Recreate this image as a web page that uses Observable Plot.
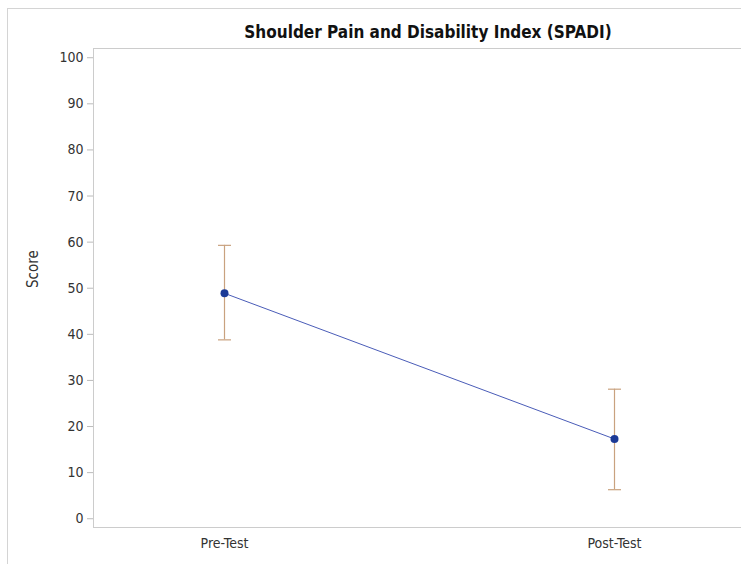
<!DOCTYPE html>
<html>
<head>
<meta charset="utf-8">
<script src="https://cdn.jsdelivr.net/npm/d3@7"></script>
<script src="https://cdn.jsdelivr.net/npm/@observablehq/plot@0.6"></script>
<style>
  html, body { margin: 0; padding: 0; background: #fff; overflow: hidden; }
  #wrap { position: relative; width: 741px; height: 564px; overflow: hidden; }
  #border { position: absolute; left: 7px; top: 8px; width: 760px; height: 600px;
            border-left: 1px solid #d4d4d4; border-top: 1px solid #d4d4d4; }
  #title { position: absolute; left: 93px; width: 670px; top: 22px; text-align: center;
           font-family: "Liberation Sans Narrow", "DejaVu Sans Condensed", "Liberation Sans", Arial, sans-serif;
           font-weight: bold; font-size: 17px; color: #111; }
  #chart { position: absolute; left: 0; top: 0; width: 748px; }
  #chart svg { max-width: none !important; }
</style>
</head>
<body>
<div id="wrap">
  <div id="border"></div>
  <div id="chart"></div>
  <div id="title">Shoulder Pain and Disability Index (SPADI)</div>
</div>
<script>
const tests = ["Pre-Test", "Post-Test"];
const means = [48.9, 17.3];
const upper = [59.3, 28.1];
const lower = [38.8, 6.3];
const yTicks = [0, 10, 20, 30, 40, 50, 60, 70, 80, 90, 100];

const data = tests.map((t, i) => ({test: t, mean: means[i], hi: upper[i], lo: lower[i]}));

const capSymbol = {
  draw(ctx) { ctx.moveTo(-6.5, 0); ctx.lineTo(6.5, 0); }
};

const font = '"Liberation Sans Narrow", "DejaVu Sans Condensed", "Liberation Sans", Arial, sans-serif';

const chart = Plot.plot({
  width: 748,
  height: 564,
  marginTop: 48,
  marginBottom: 37,
  marginLeft: 93,
  marginRight: 4,
  style: { fontFamily: font, fontSize: "14px", color: "#333", background: "transparent", overflow: "visible", maxWidth: "none" },
  x: { type: "point", domain: tests, padding: 1/3, label: null },
  y: { domain: [-1.9, 102], label: null },
  marks: [
    Plot.frame({ stroke: "#cccccc" }),
    Plot.axisY({ ticks: yTicks, tickSize: 6, tickPadding: 4, stroke: "#bbbbbb", fontSize: 14, fill: "#333" }),
    Plot.axisX({ tickSize: 0, tickPadding: 11, fontSize: 14, fill: "#333" }),
    Plot.text(["Score"], { frameAnchor: "left", dx: -60, rotate: -90, fontSize: 15, fill: "#333" }),
    Plot.ruleX(data, { x: "test", y1: "lo", y2: "hi", stroke: "#c9a27f", strokeWidth: 1.2 }),
    Plot.dot(data, { x: "test", y: "hi", symbol: capSymbol, stroke: "#c9a27f", strokeWidth: 1.2, fill: "none" }),
    Plot.dot(data, { x: "test", y: "lo", symbol: capSymbol, stroke: "#c9a27f", strokeWidth: 1.2, fill: "none" }),
    Plot.line(data, { x: "test", y: "mean", stroke: "#4a5cb8", strokeWidth: 1 }),
    Plot.dot(data, { x: "test", y: "mean", r: 4, fill: "#1c3a96", stroke: "none" })
  ]
});
document.getElementById("chart").appendChild(chart);
</script>
</body>
</html>
